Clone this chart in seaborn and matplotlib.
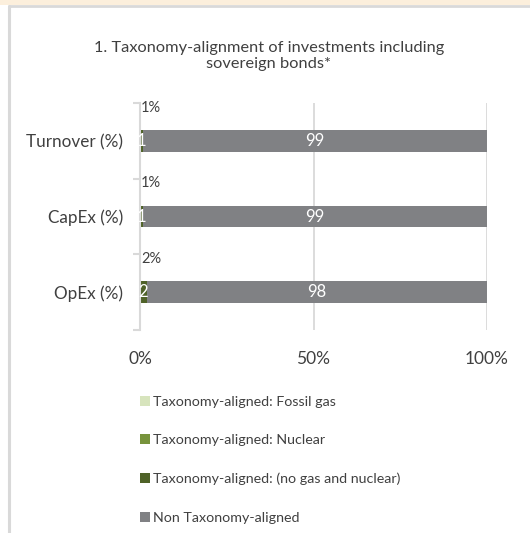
import numpy as np
import pandas as pd
import matplotlib
matplotlib.use("Agg")
import matplotlib.pyplot as plt
from matplotlib.lines import Line2D
from matplotlib.patches import Rectangle
import seaborn as sns

# Dữ liệu
categories = ["Turnover (%)", "CapEx (%)", "OpEx (%)"]
fossil_gas = [0, 0, 0]
nuclear = [0, 0, 0]
aligned_other = [1, 1, 2]
non_aligned = [99, 99, 98]
total_labels = ["1%", "1%", "2%"]
series_names = ["Taxonomy-aligned: Fossil gas", "Taxonomy-aligned: Nuclear",
                "Taxonomy-aligned: (no gas and nuclear)", "Non Taxonomy-aligned"]
series_colors = ["#d7e4bd", "#77933c", "#4f6228", "#808184"]
xtick_vals = [0, 50, 100]
xtick_labels = ["0%", "50%", "100%"]

sns.set_style("white")
plt.rcParams["font.family"] = ["Lato", "DejaVu Sans"]
TXT = "#404040"
GRID = "#d9d9d9"

df = pd.DataFrame({
    "cat": categories,
    "gas": fossil_gas,
    "nuc": nuclear,
    "other": aligned_other,
    "non": non_aligned,
})
# cộng dồn để vẽ chồng
df["c1"] = df["gas"]
df["c2"] = df["c1"] + df["nuc"]
df["c3"] = df["c2"] + df["other"]
df["c4"] = df["c3"] + df["non"]

fig = plt.figure(figsize=(5.30, 5.33), dpi=100)
fig.patch.set_facecolor("white")

# khung trang
fig.add_artist(Rectangle((0, 1 - 5 / 533), 1, 5 / 533, transform=fig.transFigure,
                         facecolor="#fcefdc", edgecolor="none"))
fig.add_artist(Line2D([8.5 / 530, 1], [1 - 6 / 533, 1 - 6 / 533], transform=fig.transFigure,
                      color=GRID, lw=2))
fig.add_artist(Line2D([9 / 530, 9 / 530], [0, 1 - 6 / 533], transform=fig.transFigure,
                      color=GRID, lw=2.2))

ax = fig.add_axes([140 / 530, 203 / 533, 347 / 530, 227 / 533])

for col, color in zip(["c4", "c3", "c2", "c1"], series_colors[::-1]):
    sns.barplot(data=df, x=col, y="cat", orient="h", color=color, width=0.29,
                saturation=1, ax=ax, edgecolor="none", zorder=3)

ax.set_xlim(0, 100)
ax.set_ylim(2.5, -0.5)

# lưới dọc
for v in xtick_vals[1:]:
    ax.axvline(v, color=GRID, lw=1.3, zorder=1)

for s in ["top", "right", "bottom"]:
    ax.spines[s].set_visible(False)
ax.spines["left"].set_color(GRID)
ax.spines["left"].set_linewidth(1.5)
ax.spines["left"].set_zorder(4)

ax.set_xticks(xtick_vals)
ax.set_xticklabels(xtick_labels, fontsize=12.5, color=TXT)
ax.tick_params(axis="x", length=0, pad=15)
ax.set_yticks(range(len(categories)))
ax.set_yticklabels(categories, fontsize=12.3, color=TXT)
ax.tick_params(axis="y", which="major", length=0, pad=12)
ax.set_yticks(np.arange(-0.5, len(categories)), minor=True)
ax.tick_params(axis="y", which="minor", left=True, length=5, width=1.5, color=GRID)
ax.set_xlabel("")
ax.set_ylabel("")

# nhãn dữ liệu
for i, row in df.iterrows():
    if row["other"] > 0:
        ax.text((row["c2"] + row["c3"]) / 2, i, f"{row['other']}", color="white",
                ha="center", va="center", fontsize=12, zorder=5)
    ax.text((row["c3"] + row["c4"]) / 2, i, f"{row['non']}", color="white",
            ha="center", va="center", fontsize=12, zorder=5)
    ax.text(0.3, i - 0.44, total_labels[i], color=TXT, ha="left", va="center",
            fontsize=10.5, zorder=5)

fig.text(269 / 530, 1 - 56 / 533,
         "1. Taxonomy-alignment of investments including\nsovereign bonds*",
         ha="center", va="center", fontsize=11.8, color=TXT, linespacing=1.2)

# chú giải
handles = [Rectangle((0, 0), 1, 1, facecolor=c, edgecolor="none") for c in series_colors]
fig.legend(handles, series_names, loc="upper left", bbox_to_anchor=(134 / 530, 1 - 390 / 533),
           frameon=False, fontsize=10.3, labelcolor=TXT, handlelength=0.7, handleheight=0.7,
           handletextpad=0.25, labelspacing=1.85, borderaxespad=0)

plt.savefig("out.png", dpi=100)
